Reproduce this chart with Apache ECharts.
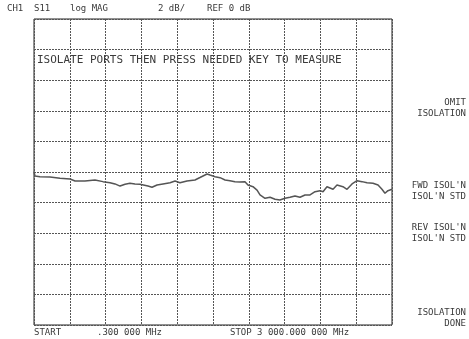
<!DOCTYPE html>
<html>
<head>
<meta charset="utf-8">
<script src="https://cdn.jsdelivr.net/npm/echarts@6/dist/echarts.min.js"></script>
<style>
  html,body{margin:0;padding:0;background:#fff;}
  #main{width:469px;height:339px;}
</style>
</head>
<body>
<div id="main"></div>
<script>
// S11 trace, frequency in MHz, level in dB (2 dB/div, ref 0 dB)
var freqMHz = [0,8,50,134,218,302,344,427,511,578,637,679,721,763,804,846,888,955,989,1031,1081,1140,1182,1223,1282,1349,1391,1450,1475,1517,1559,1601,1642,1684,1726,1768,1793,1835,1869,1894,1936,1978,2020,2061,2103,2145,2187,2229,2271,2313,2355,2397,2422,2455,2506,2539,2589,2623,2665,2707,2749,2791,2841,2883,2916,2941,2966,3000];
var levelDb = [0.02,-0.26,-0.31,-0.33,-0.41,-0.46,-0.59,-0.59,-0.52,-0.63,-0.70,-0.78,-0.92,-0.80,-0.74,-0.78,-0.80,-0.92,-1.00,-0.85,-0.78,-0.70,-0.59,-0.70,-0.59,-0.52,-0.36,-0.13,-0.20,-0.31,-0.37,-0.52,-0.57,-0.63,-0.65,-0.63,-0.85,-0.96,-1.18,-1.50,-1.72,-1.65,-1.78,-1.83,-1.72,-1.65,-1.57,-1.65,-1.50,-1.50,-1.29,-1.22,-1.29,-0.96,-1.13,-0.85,-0.96,-1.13,-0.78,-0.57,-0.63,-0.70,-0.74,-0.85,-1.13,-1.39,-1.22,-1.13];

var headerTexts = ['CH1', 'S11', 'log MAG', '2 dB/', 'REF 0 dB'];
var headerX = [7, 34, 70, 158, 207];
var softkeys = ['OMIT', 'ISOLATION', "FWD ISOL'N", "ISOL'N STD", "REV ISOL'N", "ISOL'N STD", 'ISOLATION', 'DONE'];
var softkeyY = [103, 114, 186, 197, 228, 239, 313, 324];

var font = '"DejaVu Sans Mono", monospace';
var txtColor = '#3a3a3a';

function txt(text, x, y, size, align) {
  return {type: 'text', x: x, y: y,
    style: {text: text, font: size + 'px ' + font, fill: txtColor,
      textAlign: align || 'left', textVerticalAlign: 'middle'}};
}

var graphics = [];
headerTexts.forEach(function (t, i) { graphics.push(txt(t, headerX[i], 9, 9)); });
softkeys.forEach(function (t, i) { graphics.push(txt(t, 466, softkeyY[i], 9, 'right')); });
graphics.push(txt('ISOLATE PORTS THEN PRESS NEEDED KEY TO MEASURE', 37, 60, 11));
graphics.push(txt('START', 34, 333, 9));
graphics.push(txt('.300 000 MHz', 97, 333, 9));
graphics.push(txt('STOP 3 000.000 000 MHz', 230, 333, 9));

var myChart = echarts.init(document.getElementById('main'));
var option = {
  animation: false,
  backgroundColor: '#fff',
  grid: {left: 34, top: 19, width: 358, height: 306, show: true, borderColor: '#222', borderWidth: 1},
  xAxis: {
    type: 'value', min: 0, max: 3000, interval: 300,
    axisLine: {show: false}, axisTick: {show: false}, axisLabel: {show: false},
    splitLine: {show: true, lineStyle: {color: '#555', width: 1, type: [2, 1]}}
  },
  yAxis: {
    type: 'value', min: -10, max: 10, interval: 2,
    axisLine: {show: false}, axisTick: {show: false}, axisLabel: {show: false},
    splitLine: {show: true, lineStyle: {color: '#555', width: 1, type: [2, 1]}}
  },
  series: [{
    type: 'line',
    data: freqMHz.map(function (f, i) { return [f, levelDb[i]]; }),
    symbol: 'none',
    lineStyle: {color: '#555', width: 1.5}
  }],
  graphic: graphics
};
myChart.setOption(option);
</script>
</body>
</html>
